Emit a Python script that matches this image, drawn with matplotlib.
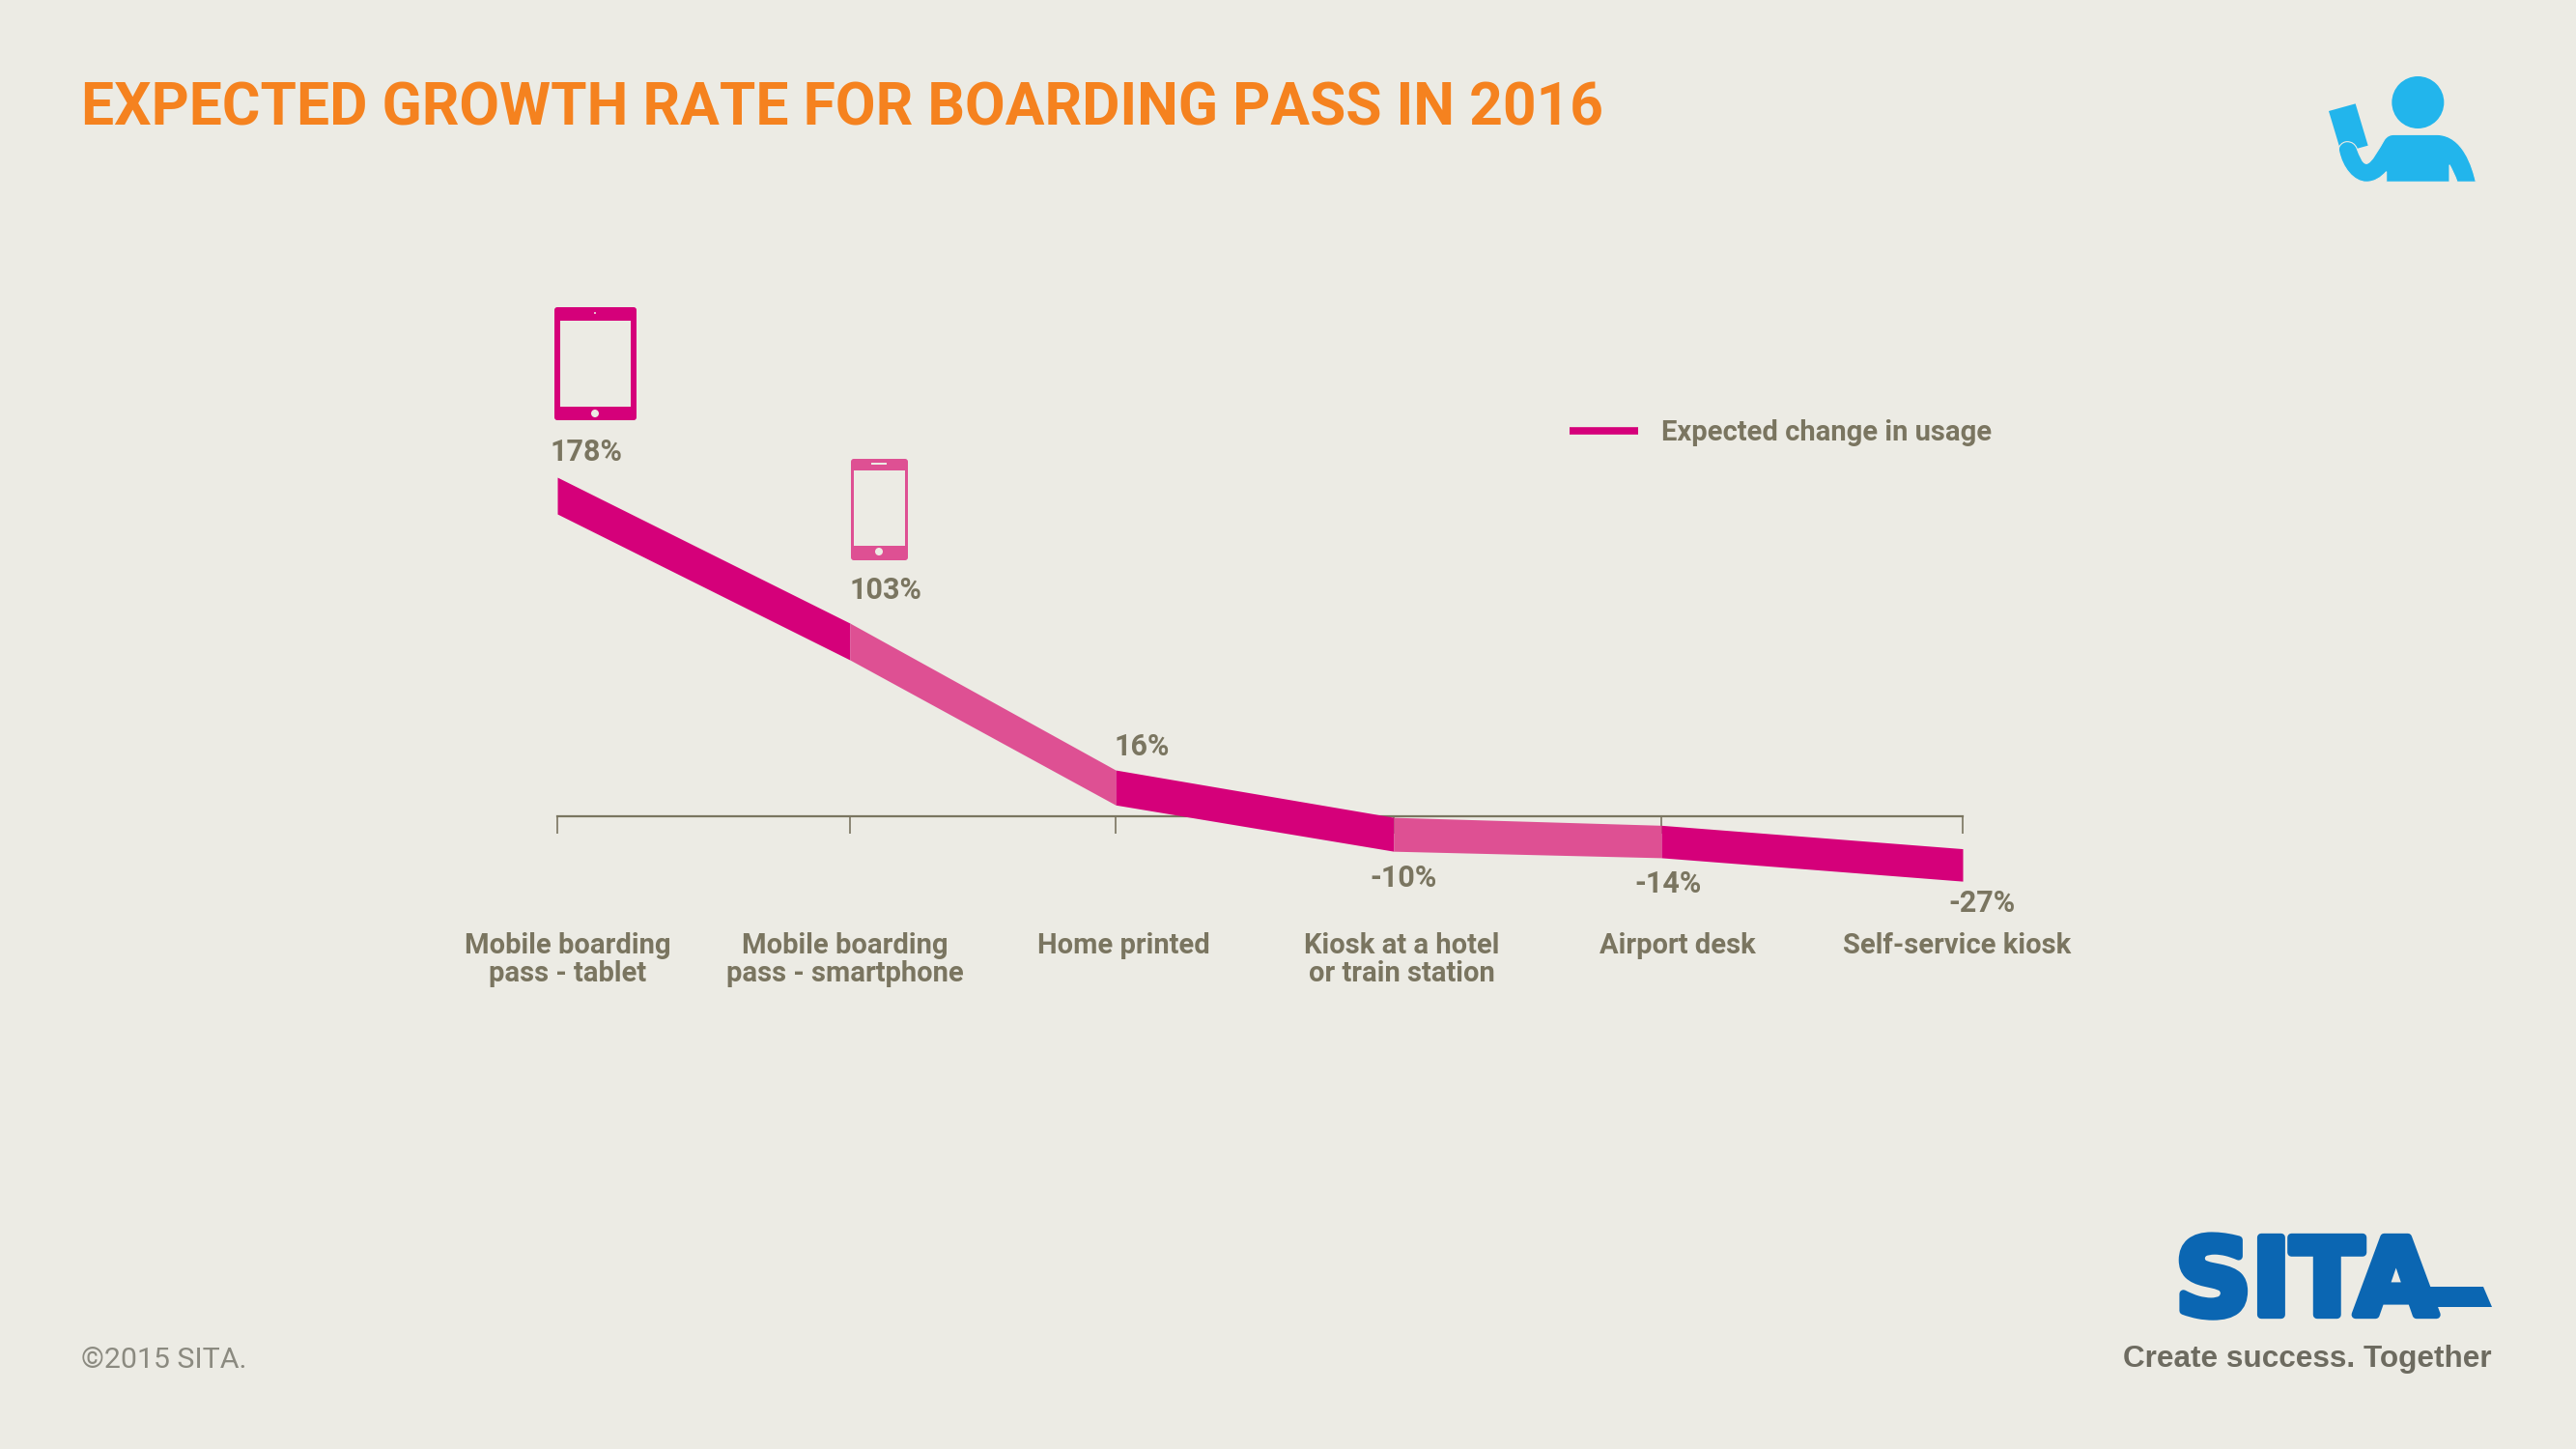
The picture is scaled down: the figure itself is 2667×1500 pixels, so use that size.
import matplotlib
matplotlib.use("Agg")
import matplotlib.pyplot as plt
import matplotlib.patheffects as pe
from matplotlib.lines import Line2D
from matplotlib.patches import Circle, FancyBboxPatch, PathPatch, Polygon, Rectangle
from matplotlib.path import Path

# Data
categories = ["Mobile boarding\npass - tablet", "Mobile boarding\npass - smartphone", "Home printed",
              "Kiosk at a hotel\nor train station", "Airport desk", "Self-service kiosk"]
value_labels = ["178%", "103%", "16%", "-10%", "-14%", "-27%"]
# where the band actually sits (the 103% point was drawn lower than its label)
band_values = [178, 97, 16, -10, -14, -27]
band_half = [10.2, 10.2, 9.7, 9.4, 9.0, 9.0]
category_x = [577, 880, 1155, 1443, 1720, 2032]

BG = "#ECEBE4"
DARK = "#D5007A"
LIGHT = "#DE5093"
TEXT = "#7A7560"
ORANGE = "#F5821F"
SKY = "#22B5EC"
BLUE = "#0B66B2"
LABEL_FONT = "Roboto"

fig = plt.figure(figsize=(26.67, 15), dpi=100, facecolor=BG)

# Chart axes: x in pixels, y in percent, zero line at pixel row 845
ax = fig.add_axes([0, 0, 1, 1], facecolor="none")
px_per_pct = 1.865
ax.set_xlim(0, 2667)
ax.set_ylim((845 - 1500) / px_per_pct, 845 / px_per_pct)
for side in ["top", "left", "right"]:
    ax.spines[side].set_visible(False)
ax.spines["bottom"].set_position(("data", 0))
ax.spines["bottom"].set_bounds(category_x[0], category_x[-1])
ax.spines["bottom"].set_color(TEXT)
ax.spines["bottom"].set_linewidth(1.6)
ax.set_yticks([])
ax.set_xticks(category_x)
ax.set_xticklabels([])
ax.tick_params(axis="x", direction="out", length=13, width=1.2, color=TEXT)

# Band, alternating colour per segment
for i in range(len(band_values) - 1):
    xs = category_x[i:i + 2]
    ys = band_values[i:i + 2]
    hs = band_half[i:i + 2]
    ax.fill_between(xs, [y - h for y, h in zip(ys, hs)], [y + h for y, h in zip(ys, hs)],
                    color=DARK if i % 2 == 0 else LIGHT, lw=0, zorder=3)

# Legend
handle = Line2D([], [], color=DARK, lw=5.5, solid_capstyle="butt")
leg = ax.legend([handle], ["Expected change in usage"], frameon=False, loc="center left",
                bbox_to_anchor=(1625 / 2667, 1 - 448 / 1500), borderaxespad=0, borderpad=0,
                handlelength=2.43, handletextpad=0.82,
                prop={"family": LABEL_FONT, "weight": "bold", "size": 21})
leg.get_texts()[0].set_color(TEXT)

# Overlay in pixel coordinates for text and icons
deco = fig.add_axes([0, 0, 1, 1], facecolor="none")
deco.set_xlim(0, 2667)
deco.set_ylim(1500, 0)
deco.axis("off")

deco.text(84, 130, "EXPECTED GROWTH RATE FOR BOARDING PASS IN 2016", color=ORANGE,
          fontsize=43.6, fontweight="bold", family="Roboto", va="baseline")
deco.text(84, 1416, "©2015 SITA.", color="#8B8A80", fontsize=21.8, family="Roboto", va="baseline")

value_x = [570, 880, 1154, 1418, 1692, 2017]
value_y = [477, 620, 782, 918, 924, 944]
for x, y, s in zip(value_x, value_y, value_labels):
    deco.text(x, y, s, color=TEXT, fontsize=22, fontweight="bold", family=LABEL_FONT, va="baseline")

label_x = [588, 875, 1163, 1451, 1737, 2026]
for x, s in zip(label_x, categories):
    for j, line in enumerate(s.split("\n")):
        deco.text(x, 987 + j * 29, line, color=TEXT, fontsize=21, fontweight="bold",
                  family=LABEL_FONT, ha="center", va="baseline")

# Tablet icon
deco.add_patch(FancyBboxPatch((576, 320), 81, 113, boxstyle="round,pad=2,rounding_size=3", fc=DARK, ec="none"))
deco.add_patch(Rectangle((580, 332), 73, 89, fc=BG, ec="none"))
deco.add_patch(Circle((616, 428), 4, fc=BG, ec="none"))
deco.add_patch(Circle((616, 324), 1, fc=BG, ec="none"))

# Phone icon
deco.add_patch(FancyBboxPatch((883, 477), 55, 101, boxstyle="round,pad=2,rounding_size=3", fc=LIGHT, ec="none"))
deco.add_patch(Rectangle((884, 487), 53, 78, fc=BG, ec="none"))
deco.add_patch(Circle((910, 571), 4, fc=BG, ec="none"))
deco.add_patch(Rectangle((902, 479), 16, 1.5, fc=BG, ec="none"))


# Person icon, traced on a 3x crop with its corner at (2150, 50)
def person(x, y):
    return (2150 + x / 3, 50 + y / 3)


deco.add_patch(Circle(person(1060, 168), 27, fc=SKY, ec="none"))
deco.add_patch(Polygon([person(783, 195), person(866, 172), person(905, 302), person(822, 325)], fc=SKY, ec="none"))
body = [(962, 415), (962, 383),
        (945, 402), (925, 415), (900, 415),
        (860, 415), (825, 370), (815, 320),
        (810, 305), (825, 290), (840, 290),
        (855, 290), (865, 298), (870, 310),
        (880, 335), (888, 358), (900, 358),
        (915, 358), (940, 310), (955, 285),
        (963, 272), (975, 268), (985, 268),
        (1120, 268),
        (1200, 270), (1230, 370), (1240, 415),
        (1182, 415),
        (1175, 395), (1165, 375), (1158, 362),
        (1158, 415), (962, 415)]
codes = [Path.MOVETO, Path.LINETO] + [Path.CURVE4] * 21 + [Path.LINETO] + [Path.CURVE4] * 3 + [Path.LINETO] \
    + [Path.CURVE4] * 3 + [Path.LINETO, Path.CLOSEPOLY]
deco.add_patch(PathPatch(Path([person(*p) for p in body], codes), fc=SKY, ec=BG, lw=0.8))

# SITA logo
logo = deco.text(2252, 1361, "SITA", color=BLUE, fontsize=79, fontweight="bold", family="DejaVu Sans", va="baseline")
logo.set_path_effects([pe.withStroke(linewidth=6, foreground=BLUE)])
deco.add_patch(Polygon([(2505, 1332), (2571, 1332), (2580, 1353), (2505, 1353)], fc=BLUE, ec="none"))
deco.text(2580, 1415, "Create success. Together", color="#6D6B60", fontsize=22.7, fontweight="bold",
          family="Liberation Sans", ha="right", va="baseline")

fig.savefig("out.png", dpi=100, facecolor=BG)
